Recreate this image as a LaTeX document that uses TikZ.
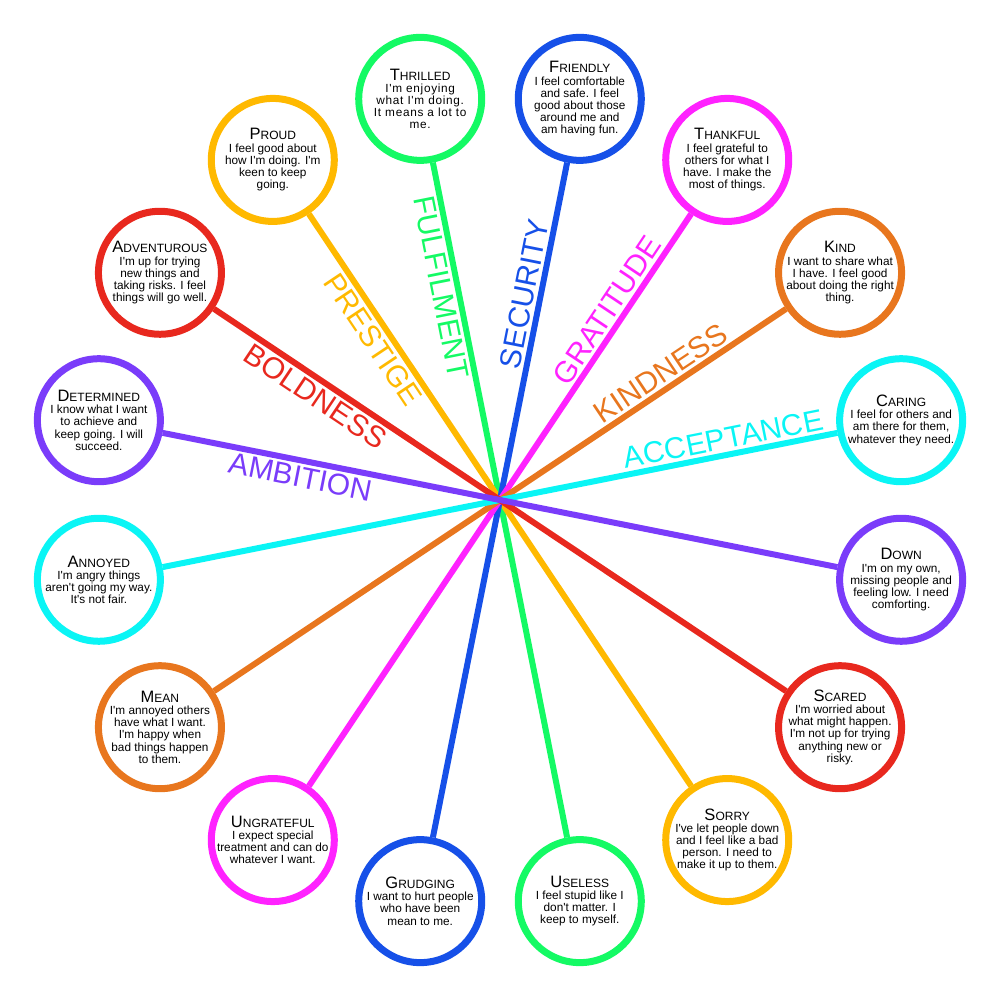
\documentclass[tikz,border=0pt]{standalone}
\usepackage{fontspec}
\setmainfont{Liberation Sans}[Ligatures=TeXOff]
\definecolor{cgreen}{RGB}{20,250,100}
\definecolor{cblue}{RGB}{22,80,232}
\definecolor{cmag}{RGB}{255,34,255}
\definecolor{corange}{RGB}{232,118,30}
\definecolor{ccyan}{RGB}{10,245,245}
\definecolor{cpurple}{RGB}{122,60,250}
\definecolor{cred}{RGB}{232,40,30}
\definecolor{camber}{RGB}{255,185,0}
\newcommand\ttl[2]{{\fontsize{16.5}{12.2}\selectfont #1}{\fontsize{12}{12.2}\selectfont #2}}
\pgfdeclarelayer{bg}
\pgfsetlayers{bg,main}
\begin{document}
\begin{tikzpicture}[x=1pt,y=1pt,
  disc/.style={circle, draw=#1, line width=7pt, fill=white, minimum size=123pt, inner sep=0pt},
  spoke/.style={draw=#1, line width=6pt},
  blurb/.style={align=center, font=\fontsize{11.8}{12.2}\selectfont, inner sep=0pt, text=black},
  theme/.style={text=#1, font=\fontsize{30}{30}\selectfont, inner sep=5.5pt}]
\useasboundingbox (0,0) rectangle (1000,1000);
\coordinate (O) at (500,500);
% circles
\path (O) ++(11.25:409)  node[disc=ccyan]   (caring) {};
\path (O) ++(33.75:409)  node[disc=corange] (kind) {};
\path (O) ++(56.25:409)  node[disc=cmag]    (thankful) {};
\path (O) ++(78.75:409)  node[disc=cblue]   (friendly) {};
\path (O) ++(101.25:409) node[disc=cgreen]  (thrilled) {};
\path (O) ++(123.75:409) node[disc=camber]  (proud) {};
\path (O) ++(146.25:409) node[disc=cred]    (adventurous) {};
\path (O) ++(168.75:409) node[disc=cpurple] (determined) {};
\path (O) ++(191.25:409) node[disc=ccyan]   (annoyed) {};
\path (O) ++(213.75:409) node[disc=corange] (mean) {};
\path (O) ++(236.25:409) node[disc=cmag]    (ungrateful) {};
\path (O) ++(258.75:409) node[disc=cblue]   (grudging) {};
\path (O) ++(281.25:409) node[disc=cgreen]  (useless) {};
\path (O) ++(303.75:409) node[disc=camber]  (sorry) {};
\path (O) ++(326.25:409) node[disc=cred]    (scared) {};
\path (O) ++(348.75:409) node[disc=cpurple] (down) {};
% spokes
\begin{pgfonlayer}{bg}
\draw[spoke=cgreen]  (thrilled) -- (useless);
\draw[spoke=camber]  (proud) -- (sorry);
\draw[spoke=cblue]   (friendly) -- (grudging);
\draw[spoke=cmag]    (thankful) -- (ungrateful);
\draw[spoke=corange] (kind) -- (mean);
\draw[spoke=ccyan]   (caring) -- (annoyed);
\draw[spoke=cred]    (adventurous) -- (scared);
\draw[spoke=cpurple] (determined) -- (down);
\end{pgfonlayer}
% texts
\node[blurb] (caring-t) at (caring) {\ttl{C}{ARING}\\I feel for others and\\am there for them,\\whatever they need.};
\node[blurb] (kind-t) at (kind) {\ttl{K}{IND}\\I want to share what\\I have. I feel good\\about doing the right\\thing.};
\node[blurb] (thankful-t) at (thankful) {\ttl{T}{HANKFUL}\\I feel grateful to\\others for what I\\have. I make the\\most of things.};
\node[blurb] (friendly-t) at (friendly) {\ttl{F}{RIENDLY}\\I feel comfortable\\and safe. I feel\\good about those\\around me and\\am having fun.};
\node[blurb] (thrilled-t) at (thrilled) {\ttl{T}{HRILLED}\\{\addfontfeatures{LetterSpace=6}I'm enjoying}\\{\addfontfeatures{LetterSpace=6}what I'm doing.}\\{\addfontfeatures{LetterSpace=6}It means a lot to}\\{\addfontfeatures{LetterSpace=6}me.}};
\node[blurb] (proud-t) at (proud) {\ttl{P}{ROUD}\\I feel good about\\how I'm doing. I'm\\keen to keep\\going.};
\node[blurb] (adventurous-t) at (adventurous) {\ttl{A}{DVENTUROUS}\\I'm up for trying\\new things and\\taking risks. I feel\\things will go well.};
\node[blurb] (determined-t) at (determined) {\ttl{D}{ETERMINED}\\I know what I want\\to achieve and\\keep going. I will\\succeed.};
\node[blurb] (annoyed-t) at (annoyed) {\ttl{A}{NNOYED}\\I'm angry things\\aren't going my way.\\It's not fair.};
\node[blurb] (mean-t) at (mean) {\ttl{M}{EAN}\\I'm annoyed others\\have what I want.\\I'm happy when\\bad things happen\\to them.};
\node[blurb] (ungrateful-t) at (ungrateful) {\ttl{U}{NGRATEFUL}\\I expect special\\treatment and can do\\whatever I want.};
\node[blurb] (grudging-t) at (grudging) {\ttl{G}{RUDGING}\\I want to hurt people\\who have been\\mean to me.};
\node[blurb] (useless-t) at (useless) {\ttl{U}{SELESS}\\I feel stupid like I\\don't matter. I\\keep to myself.};
\node[blurb] (sorry-t) at (sorry) {\ttl{S}{ORRY}\\I've let people down\\and I feel like a bad\\person. I need to\\make it up to them.};
\node[blurb] (scared-t) at (scared) {\ttl{S}{CARED}\\I'm worried about\\what might happen.\\I'm not up for trying\\anything new or\\risky.};
\node[blurb] (down-t) at (down) {\ttl{D}{OWN}\\I'm on my own,\\missing people and\\feeling low. I need\\comforting.};
% theme labels
\path (O) ++(11.25:231)  node[theme=ccyan,   rotate=11.25,  anchor=south] (acceptance) {ACCEPTANCE};
\path (O) ++(33.75:204)  node[theme=corange, rotate=33.75,  anchor=south] (kindness) {KINDNESS};
\path (O) ++(56.25:217)  node[theme=cmag,    rotate=56.25,  anchor=south] (gratitude) {GRATITUDE};
\path (O) ++(78.75:207)  node[theme=cblue,   rotate=78.75,  anchor=south] (security) {SECURITY};
\path (O) ++(101.25:220) node[theme=cgreen,  rotate=-78.75, anchor=north] (fulfilment) {FULFILMENT};
\path (O) ++(123.75:204) node[theme=camber,  rotate=-56.25, anchor=north] (prestige) {PRESTIGE};
\path (O) ++(146.25:211) node[theme=cred,    rotate=-33.75, anchor=north] (boldness) {BOLDNESS};
\path (O) ++(168.75:200) node[theme=cpurple, rotate=-11.25, anchor=north] (ambition) {AMBITION};
\end{tikzpicture}
\end{document}
